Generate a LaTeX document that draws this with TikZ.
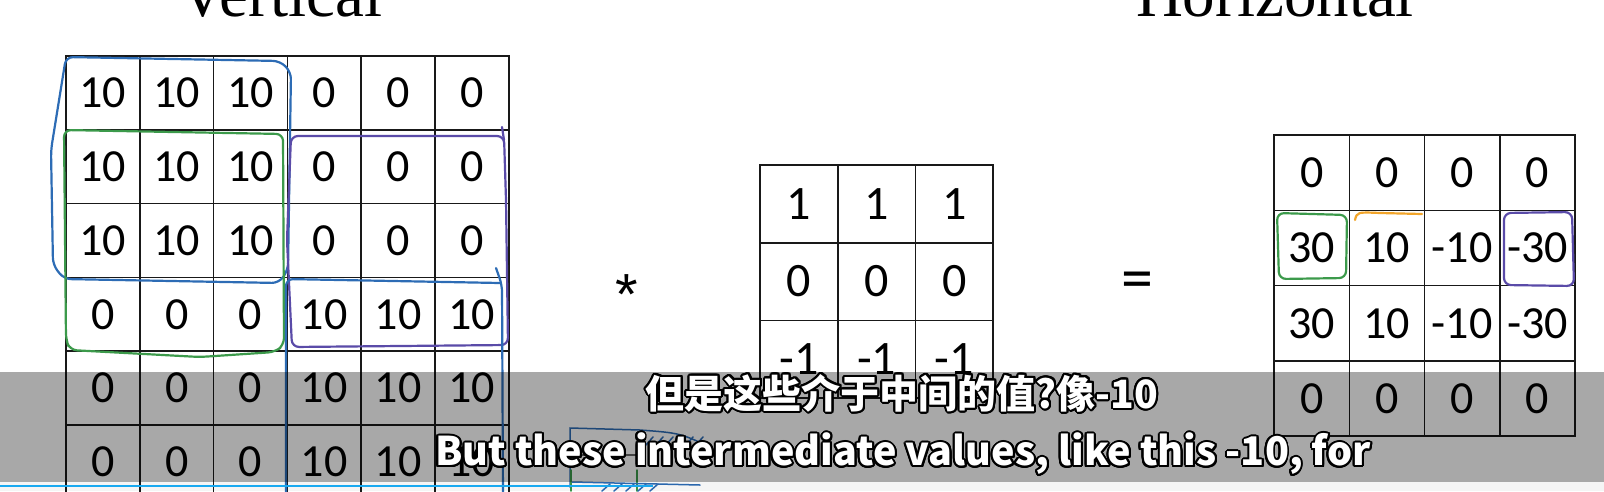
\documentclass[tikz,border=0pt]{standalone}
\usepackage{fontspec}
\usepackage[copies]{contour}
\usetikzlibrary{positioning}
\newfontfamily\cellfont{Carlito}
\newfontfamily\titlefont{Liberation Serif}
\newfontfamily\starfont{Liberation Sans}
\newfontfamily\subfont{Noto Sans CJK SC}
\contourlength{2pt}
\contournumber{24}
\definecolor{penblue}{HTML}{2D6CB5}
\definecolor{pengreen}{HTML}{3C9A4B}
\definecolor{penpurple}{HTML}{5A4BA8}
\definecolor{penorange}{HTML}{F2A52A}
\definecolor{barcyan}{HTML}{19A9F0}
\tikzset{
  cell/.style={draw=black!90,line width=1.6pt,minimum width=73.8pt,minimum height=73.8pt,
    inner sep=0pt,font=\cellfont\fontsize{46}{46}\selectfont},
  kcell/.style={cell,minimum width=77.7pt,minimum height=77.7pt,font=\cellfont\fontsize{48}{48}\selectfont},
  ocell/.style={cell,minimum width=75.3pt,minimum height=75.3pt},
  ttl/.style={anchor=base,font=\titlefont\fontsize{65}{65}\selectfont},
  opsym/.style={anchor=base,font=\cellfont\fontsize{46}{46}\selectfont},
  pen/.style={line width=2.2pt,line cap=round,line join=round,rounded corners=7pt},
  thinpen/.style={line width=1.5pt,line cap=round},
  subtxt/.style={text=white,font=\subfont\bfseries\fontsize{39.5}{39.5}\selectfont,inner sep=0pt},
}

\begin{document}
\begin{tikzpicture}[x=1pt,y=-1pt]
  \useasboundingbox (0,0) rectangle (1604,491);
  \clip (0,0) rectangle (1604,491);
  \fill[white] (0,0) rectangle (1604,491);
  % titles
  \node[ttl] (vtitle) at (281,16) {Vertical};
  \node[ttl] (htitle) at (1275,16) {Horizontal};
  % input image
  \foreach \row [count=\r] in {{10,10,10,0,0,0},{10,10,10,0,0,0},{10,10,10,0,0,0},
      {0,0,0,10,10,10},{0,0,0,10,10,10},{0,0,0,10,10,10}}{
    \foreach \v [count=\c] in \row
      \node[cell] (in-\r-\c) at ({66+73.8*(\c-0.5)},{56+73.8*(\r-0.5)}) {\v};
  }
  \node[opsym,font=\starfont\fontsize{58}{58}\selectfont] (star) at (627,314) {*};
  % filter
  \foreach \row [count=\r] in {{1,1,1},{0,0,0},{-1,-1,-1}}{
    \foreach \v [count=\c] in \row
      \node[kcell] (k-\r-\c) at ({760+77.7*(\c-0.5)},{165+77.7*(\r-0.5)}) {\v};
  }
  \node[opsym,font=\cellfont\fontsize{64}{64}\selectfont] (eq) at (1137,299) {=};
  % output
  \foreach \row [count=\r] in {{0,0,0,0},{30,10,-10,-30},{30,10,-10,-30},{0,0,0,0}}{
    \foreach \v [count=\c] in \row
      \node[ocell] (out-\r-\c) at ({1274+75.3*(\c-0.5)},{135+75.3*(\r-0.5)}) {\v};
  }
  % hand-drawn marks
  \draw[pen,penblue] (66,57) -- (280,61) -- (291,72) -- (288,270) -- (279,283)
    -- (64,279) -- (53,265) -- (51,150) -- cycle;
  \draw[pen,pengreen] (64,130) -- (283,134) -- (284,345) -- (275,352) -- (200,357)
    -- (70,350) -- (66,340) -- cycle;
  \draw[pen,penpurple] (291,136) -- (504,136) -- (506,200) -- (508,345)
    -- (292,347) -- (287,240) -- cycle;
  \draw[pen,penpurple] (502,127) -- (504,140);
  \draw[pen,penblue] (286,500) -- (286,279) -- (500,283);
  \draw[pen,penblue] (496,268) -- (502,285) -- (503,500);
  \draw[pen,pengreen] (1277,213) -- (1347,215) -- (1346,278) -- (1279,279) -- cycle;
  \draw[pen,penpurple] (1504,213) -- (1572,212) -- (1574,286) -- (1504,285) -- cycle;
  \draw[pen,penorange,rounded corners=0pt] (1355,220) .. controls (1357,212) .. (1380,213) -- (1422,214);
  % sketch below the subtitles
  \draw[thinpen,penblue] (570,487) -- (570,428) -- (640,430) .. controls (680,433) .. (712,448);
  \draw[thinpen,black!60] (570,455) -- (638,455);
  \draw[thinpen,pengreen] (571,470) -- (571,491) (637,470) -- (637,491);
  \draw[thinpen,penblue] (572,482) -- (700,485);
  \foreach \i in {0,...,5}
    \draw[thinpen,penblue] ({645+10*\i},446) -- ({653+10*\i},437);
  \foreach \i in {0,...,4}
    \draw[thinpen,penblue] ({602+12*\i},491) -- ({610+12*\i},484);
  % subtitle band
  \fill[black,opacity=0.34] (0,372) rectangle (1604,482);
  \fill[black,opacity=0.04] (0,482) rectangle (1604,491);
  \draw[barcyan,line width=2.5pt] (0,486) -- (653,486);
  \node[subtxt,font=\subfont\bfseries\fontsize{39}{39}\selectfont] (zhsub) at (902,394)
    {\contour{black}{但是这些介于中间的值?像-10}};
  \node[subtxt] (ensub) at (903,455) {\contour{black}{But these intermediate values, like this -10, for}};
\end{tikzpicture}
\end{document}
